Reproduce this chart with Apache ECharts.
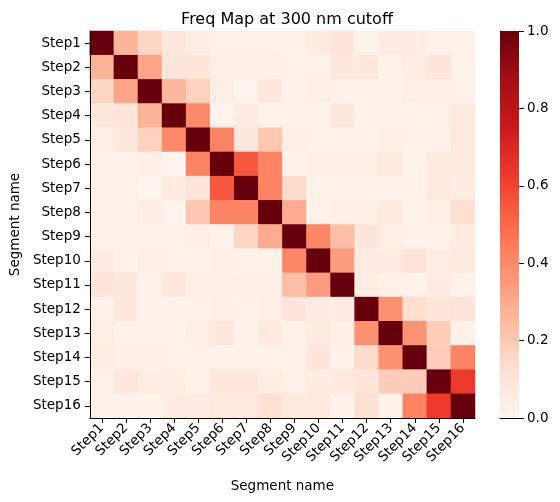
<!DOCTYPE html>
<html>
<head>
<meta charset="utf-8">
<script src="https://cdn.jsdelivr.net/npm/echarts@6/dist/echarts.min.js"></script>
<style>
  html, body { margin: 0; padding: 0; background: #fff; }
  #main { width: 560px; height: 502px; }
</style>
</head>
<body>
<div id="main"></div>
<script>
// segment names (x and y)
var steps = ['Step1', 'Step2', 'Step3', 'Step4', 'Step5', 'Step6', 'Step7', 'Step8',
  'Step9', 'Step10', 'Step11', 'Step12', 'Step13', 'Step14', 'Step15', 'Step16'];

// frequency matrix, one row per segment
var freqMatrix = [
  [1.00, 0.27, 0.16, 0.08, 0.05, 0.03, 0.03, 0.03, 0.03, 0.06, 0.09, 0.02, 0.06, 0.06, 0.03, 0.03],
  [0.27, 1.00, 0.32, 0.09, 0.09, 0.04, 0.04, 0.04, 0.02, 0.02, 0.08, 0.08, 0.02, 0.05, 0.09, 0.02],
  [0.16, 0.32, 1.00, 0.26, 0.17, 0.04, 0.01, 0.08, 0.02, 0.04, 0.02, 0.02, 0.02, 0.04, 0.04, 0.02],
  [0.08, 0.09, 0.27, 1.00, 0.40, 0.01, 0.06, 0.02, 0.02, 0.02, 0.08, 0.02, 0.02, 0.02, 0.03, 0.07],
  [0.04, 0.08, 0.17, 0.40, 1.00, 0.42, 0.08, 0.21, 0.04, 0.02, 0.03, 0.02, 0.04, 0.02, 0.02, 0.07],
  [0.02, 0.03, 0.04, 0.01, 0.42, 1.00, 0.55, 0.42, 0.02, 0.04, 0.04, 0.04, 0.07, 0.02, 0.07, 0.07],
  [0.02, 0.03, 0.01, 0.06, 0.09, 0.55, 1.00, 0.42, 0.14, 0.02, 0.03, 0.02, 0.02, 0.02, 0.07, 0.06],
  [0.02, 0.03, 0.05, 0.01, 0.21, 0.42, 0.42, 1.00, 0.30, 0.02, 0.04, 0.04, 0.07, 0.02, 0.04, 0.12],
  [0.02, 0.02, 0.02, 0.02, 0.04, 0.02, 0.16, 0.30, 1.00, 0.41, 0.24, 0.09, 0.04, 0.02, 0.02, 0.06],
  [0.06, 0.02, 0.04, 0.02, 0.02, 0.04, 0.02, 0.02, 0.41, 1.00, 0.34, 0.06, 0.06, 0.10, 0.05, 0.07],
  [0.09, 0.08, 0.02, 0.08, 0.04, 0.04, 0.04, 0.04, 0.24, 0.34, 1.00, 0.05, 0.03, 0.02, 0.06, 0.02],
  [0.02, 0.08, 0.02, 0.02, 0.02, 0.04, 0.02, 0.04, 0.09, 0.06, 0.06, 1.00, 0.38, 0.13, 0.09, 0.10],
  [0.04, 0.02, 0.02, 0.02, 0.04, 0.08, 0.02, 0.07, 0.03, 0.06, 0.04, 0.38, 1.00, 0.37, 0.19, 0.02],
  [0.05, 0.04, 0.04, 0.02, 0.02, 0.02, 0.02, 0.02, 0.03, 0.09, 0.02, 0.14, 0.38, 1.00, 0.19, 0.42],
  [0.02, 0.08, 0.05, 0.05, 0.02, 0.08, 0.08, 0.05, 0.03, 0.06, 0.07, 0.09, 0.19, 0.19, 1.00, 0.63],
  [0.02, 0.02, 0.02, 0.06, 0.06, 0.07, 0.07, 0.12, 0.07, 0.07, 0.02, 0.12, 0.02, 0.42, 0.63, 1.00]
];

// matplotlib "Reds"
var redsColors = ['#fff5f0', '#fee0d2', '#fcbba1', '#fc9272', '#fb6a4a',
  '#ef3b2c', '#cb181d', '#a50f15', '#67000d'];

var heatData = [];
for (var i = 0; i < freqMatrix.length; i++) {
  for (var j = 0; j < freqMatrix[i].length; j++) {
    heatData.push([j, i, freqMatrix[i][j]]);
  }
}

// vertical gradient for the colour bar (bottom = 0, top = 1)
var barStops = [];
for (var k = 0; k < redsColors.length; k++) {
  barStops.push({ offset: 1 - k / (redsColors.length - 1), color: redsColors[k] });
}

var font = 'DejaVu Sans';
var tickStyle = { show: true, inside: false, length: 5, lineStyle: { color: '#000', width: 1 } };
var catTick = { show: true, inside: false, alignWithLabel: true, interval: 0, length: 5, lineStyle: { color: '#000', width: 1 } };
var chart = echarts.init(document.getElementById('main'));

chart.setOption({
  animation: false,
  textStyle: { fontFamily: font },
  title: {
    text: 'Freq Map at 300 nm cutoff',
    left: 282,
    top: 7,
    textAlign: 'center',
    textStyle: { fontFamily: font, fontSize: 16, fontWeight: 'normal', color: '#000' }
  },
  grid: [
    { left: 89, top: 31, width: 386, height: 387 },
    { left: 500, top: 31, width: 19, height: 387 }
  ],
  visualMap: {
    type: 'continuous',
    show: false,
    min: 0,
    max: 1,
    seriesIndex: 0,
    inRange: { color: redsColors }
  },
  xAxis: [{
    gridIndex: 0,
    type: 'category',
    data: steps,
    z: 10,
    name: 'Segment name',
    nameLocation: 'middle',
    nameGap: 61,
    nameTextStyle: { fontSize: 13.5, color: '#000' },
    axisLine: { show: true, lineStyle: { color: '#000', width: 1 } },
    axisTick: catTick,
    axisLabel: { rotate: 45, fontSize: 13.5, color: '#000', margin: 8, interval: 0 },
    splitLine: { show: false }
  }, {
    gridIndex: 1,
    type: 'category',
    data: [''],
    axisLine: { lineStyle: { color: '#000', width: 1 } },
    axisTick: { show: false },
    axisLabel: { show: false }
  }],
  yAxis: [{
    gridIndex: 0,
    type: 'category',
    data: steps,
    inverse: true,
    z: 10,
    name: 'Segment name',
    nameLocation: 'middle',
    nameGap: 66,
    nameRotate: 90,
    nameTextStyle: { fontSize: 13.5, color: '#000' },
    axisLine: { show: true, lineStyle: { color: '#000', width: 1 } },
    axisTick: catTick,
    axisLabel: { fontSize: 13.5, color: '#000', margin: 9, interval: 0 },
    splitLine: { show: false }
  }, {
    gridIndex: 1,
    type: 'value',
    position: 'right',
    min: 0,
    max: 1,
    interval: 0.2,
    axisLine: { show: false },
    axisTick: tickStyle,
    axisLabel: { fontSize: 13.5, color: '#000', margin: 8, formatter: function (v) { return v.toFixed(1); } },
    splitLine: { show: false }
  }, {
    gridIndex: 1,
    type: 'value',
    position: 'left',
    min: 0,
    max: 1,
    axisLine: { show: true, lineStyle: { color: '#000', width: 1 } },
    axisTick: { show: false },
    axisLabel: { show: false },
    splitLine: { show: false }
  }],
  series: [{
    type: 'heatmap',
    xAxisIndex: 0,
    yAxisIndex: 0,
    data: heatData,
    itemStyle: { borderWidth: 0 },
    emphasis: { disabled: true }
  }, {
    type: 'bar',
    xAxisIndex: 1,
    yAxisIndex: 1,
    data: [1],
    barWidth: '100%',
    silent: true,
    itemStyle: { color: new echarts.graphic.LinearGradient(0, 0, 0, 1, barStops) }
  }]
});
</script>
</body>
</html>
